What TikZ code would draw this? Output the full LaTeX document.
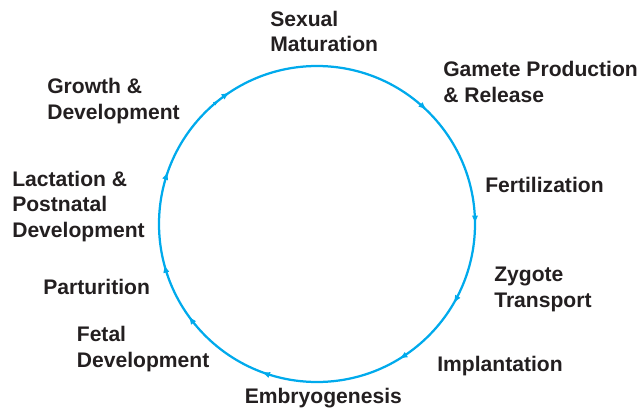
\documentclass[tikz,border=0pt]{standalone}
\usepackage{fontspec}
\setmainfont{Liberation Sans}
\usetikzlibrary{arrows.meta,decorations.markings}

\definecolor{cyclecol}{RGB}{0,170,236}
\definecolor{labelcol}{RGB}{35,31,32}

\begin{document}
\begin{tikzpicture}[x=0.025cm, y=0.025cm,
	stage/.style={anchor=base west, align=left, inner sep=0pt, text=labelcol,
		font=\bfseries\fontsize{15}{17.8}\selectfont}]
	\useasboundingbox (0,0) rectangle (639,410);
	\draw[line width=1.6pt, color=cyclecol, postaction={decorate},
		decoration={markings,
			mark=at position 0.122 with {\arrow{Latex[length=6pt,width=4.5pt]}},
			mark=at position 0.250 with {\arrow{Latex[length=6pt,width=4.5pt]}},
			mark=at position 0.334 with {\arrow{Latex[length=6pt,width=4.5pt]}},
			mark=at position 0.413 with {\arrow{Latex[length=6pt,width=4.5pt]}},
			mark=at position 0.557 with {\arrow{Latex[length=6pt,width=4.5pt]}},
			mark=at position 0.651 with {\arrow{Latex[length=6pt,width=4.5pt]}},
			mark=at position 0.709 with {\arrow{Latex[length=6pt,width=4.5pt]}},
			mark=at position 0.804 with {\arrow{Latex[length=6pt,width=4.5pt]}},
			mark=at position 0.893 with {\arrow{Latex[length=4pt,width=3pt]}},
			mark=at position 0.907 with {\arrow{Latex[length=6pt,width=4.5pt]}}}]
		(317,344) arc[start angle=90, end angle=-270, radius=158];

	\node[stage] (sexual) at (270,358) {Sexual\\Maturation};
	\node[stage] (gamete) at (443,308) {Gamete Production\\\& Release};
	\node[stage] (fert) at (485,218) {Fertilization};
	\node[stage] (zygote) at (494,103) {Zygote\\Transport};
	\node[stage] (implant) at (437,39) {Implantation};
	\node[stage] (embryo) at (244.5,7) {Embryogenesis};
	\node[stage] (fetal) at (76.6,43) {Fetal\\Development};
	\node[stage] (partur) at (43,116) {Parturition};
	\node[stage] (lact) at (12,173) {Lactation \&\\Postnatal\\Development};
	\node[stage] (growth) at (47,291) {Growth \&\\Development};
\end{tikzpicture}
\end{document}
